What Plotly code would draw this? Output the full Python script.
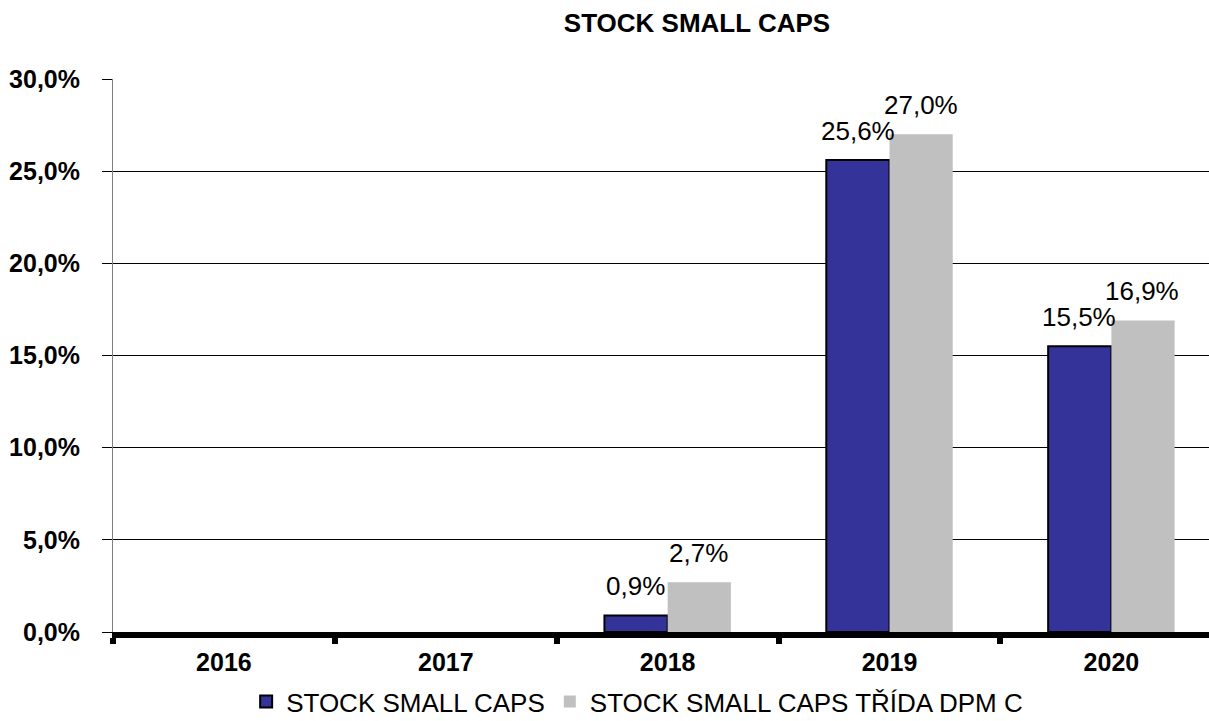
import plotly.graph_objects as go

years = ["2016", "2017", "2018", "2019", "2020"]
small_caps = [None, None, 0.009, 0.256, 0.155]
small_caps_dpm_c = [None, None, 0.027, 0.270, 0.169]
series_names = ["STOCK SMALL CAPS", "STOCK SMALL CAPS TŘÍDA DPM C"]
series_colors = ["#333399", "#C0C0C0"]
title_text = "STOCK SMALL CAPS"

FONT = "Liberation Sans, Arial, sans-serif"

fig = go.Figure()
fig.add_trace(go.Bar(
    x=years, y=small_caps, name=series_names[0],
    marker=dict(color=series_colors[0], line=dict(color="black", width=2)),
))
fig.add_trace(go.Bar(
    x=years, y=small_caps_dpm_c, name=series_names[1],
    marker=dict(color=series_colors[1], line=dict(color=series_colors[1], width=0)),
))

# data labels, positioned on the data coordinates (category index, shifted to the grouped bar)
for values, shift in ((small_caps, -32), (small_caps_dpm_c, 31)):
    for i, v in enumerate(values):
        if v is None:
            continue
        fig.add_annotation(
            x=i, y=v, xref="x", yref="y",
            text=f"{v*100:.1f}%".replace(".", ","),
            showarrow=False, xanchor="center", yanchor="bottom",
            xshift=shift, yshift=12,
            font=dict(size=26, family=FONT, color="black"),
        )

fig.update_layout(
    width=1209, height=721,
    margin=dict(l=113, r=0, t=79, b=89),
    paper_bgcolor="white", plot_bgcolor="white",
    separators=",.",
    barmode="group", bargap=0.43, bargroupgap=0,
    font=dict(family=FONT, color="black"),
    title=dict(text="<b>" + title_text + "</b>", xref="container", x=0.5765, xanchor="center",
               yref="container", y=0.968, yanchor="middle", font=dict(size=26, family=FONT)),
    legend=dict(orientation="h", xref="container", x=0.527, xanchor="center",
                yref="container", y=0.027, yanchor="middle",
                font=dict(size=26, family=FONT), itemwidth=30, traceorder="normal"),
    xaxis=dict(type="category", range=[-0.5, 4.44], showgrid=False,
               showline=True, linecolor="black", linewidth=6,
               ticks="outside", tickson="boundaries", ticklen=6, tickwidth=6, tickcolor="black",
               tickfont=dict(size=25, family=FONT), ticklabelstandoff=3),
    yaxis=dict(range=[0, 0.30], dtick=0.05, tickformat=".1%",
               showgrid=True, gridcolor="black", gridwidth=1,
               showline=True, linecolor="#808080", linewidth=1,
               ticks="outside", ticklen=10, tickcolor="black",
               tickfont=dict(size=25, family=FONT), zeroline=False,
               ticklabelstandoff=17),
)
fig.update_xaxes(tickprefix="<b>", ticksuffix="</b>")
fig.update_yaxes(tickprefix="<b>", ticksuffix="</b>")

fig.write_html("out.html", config={"displayModeBar": False},
               post_script="document.body.style.margin='0';document.body.style.overflow='hidden';")
